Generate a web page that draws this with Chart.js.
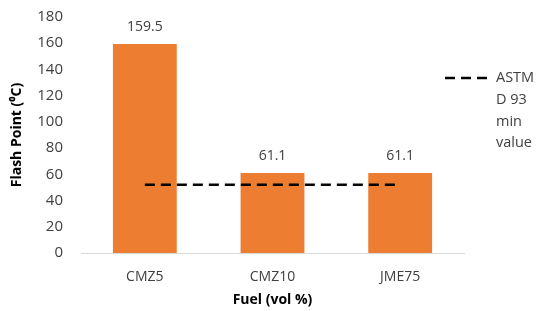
<!DOCTYPE html>
<html>
<head>
<meta charset="utf-8">
<script src="https://cdn.jsdelivr.net/npm/chart.js@4/dist/chart.umd.min.js"></script>
<style>
  html, body { margin: 0; padding: 0; background: #fff; }
</style>
</head>
<body>
<canvas id="flashChart" width="544" height="311"></canvas>
<script>
// data
var fuels = ['CMZ5', 'CMZ10', 'JME75'];
var flashPoints = [159.5, 61.1, 61.1];
var astmMin = [52, 52, 52];
var astmLabel = ['ASTM', 'D 93', 'min', 'value'];
var yTicks = [0, 20, 40, 60, 80, 100, 120, 140, 160, 180];

var textColor = '#404040';
var fontFamily = "'Open Sans', 'Liberation Sans', sans-serif";

// value labels above the bars
var barLabels = {
  id: 'barLabels',
  afterDatasetsDraw: function(chart) {
    var ctx = chart.ctx;
    var meta = chart.getDatasetMeta(0);
    ctx.save();
    ctx.fillStyle = textColor;
    ctx.font = '14px ' + fontFamily;
    ctx.textAlign = 'center';
    ctx.textBaseline = 'middle';
    meta.data.forEach(function(bar, i) {
      ctx.fillText(flashPoints[i].toFixed(1), bar.x, bar.y - 17);
    });
    ctx.restore();
  }
};

// legend on the right, text wrapped like the original
var sideLegend = {
  id: 'sideLegend',
  afterDraw: function(chart) {
    var ctx = chart.ctx;
    var x0 = 445, y0 = 78;
    ctx.save();
    ctx.strokeStyle = '#000';
    ctx.lineWidth = 2.5;
    ctx.setLineDash([10, 6]);
    ctx.beginPath();
    ctx.moveTo(x0, y0);
    ctx.lineTo(x0 + 48, y0);
    ctx.stroke();
    ctx.setLineDash([]);
    ctx.fillStyle = textColor;
    ctx.font = '14.5px ' + fontFamily;
    ctx.textAlign = 'left';
    ctx.textBaseline = 'middle';
    astmLabel.forEach(function(t, i) {
      ctx.fillText(t, 496, y0 + i * 21.7);
    });
    ctx.restore();
  }
};

var ctx = document.getElementById('flashChart').getContext('2d');
var chart = new Chart(ctx, {
  type: 'bar',
  data: {
    labels: fuels,
    datasets: [{
      label: 'Flash point',
      data: flashPoints,
      backgroundColor: '#ED7D31',
      barPercentage: 0.5,
      categoryPercentage: 1.0,
      order: 2
    }, {
      type: 'line',
      label: 'ASTM D 93 min value',
      data: astmMin,
      borderColor: '#000',
      borderWidth: 2.5,
      borderDash: [10, 6],
      pointRadius: 0,
      fill: false,
      order: 1
    }]
  },
  options: {
    responsive: false,
    animation: false,
    layout: { padding: { top: 17, right: 80, left: 0, bottom: 0 } },
    plugins: {
      legend: { display: false },
      tooltip: { enabled: false }
    },
    scales: {
      x: {
        afterFit: function(scale) { scale.height = 58; },
        grid: { display: false, drawTicks: false },
        border: { color: '#d9d9d9' },
        ticks: { color: textColor, font: { family: fontFamily, size: 14 }, padding: 16, maxRotation: 0, autoSkip: false },
        title: {
          display: true, text: 'Fuel (vol %)', color: '#000',
          font: { family: fontFamily, size: 14, weight: 'bold' }, padding: { top: 0, bottom: 3 }
        }
      },
      y: {
        min: 0, max: 180,
        afterFit: function(scale) {
          scale.width = 81;
          scale.paddingTop = 0;
          scale.paddingBottom = 0;
        },
        afterBuildTicks: function(axis) {
          axis.ticks = yTicks.map(function(v) { return { value: v }; });
        },
        grid: { display: false, drawTicks: false },
        border: { display: false },
        ticks: { color: textColor, font: { family: fontFamily, size: 15 }, padding: 18, autoSkip: false },
        title: {
          display: true, text: 'Flash Point (⁰C)', color: '#000',
          font: { family: fontFamily, size: 14, weight: 'bold' }, padding: { top: 9, bottom: 0 }
        }
      }
    }
  },
  plugins: [barLabels, sideLegend]
});
</script>
</body>
</html>
